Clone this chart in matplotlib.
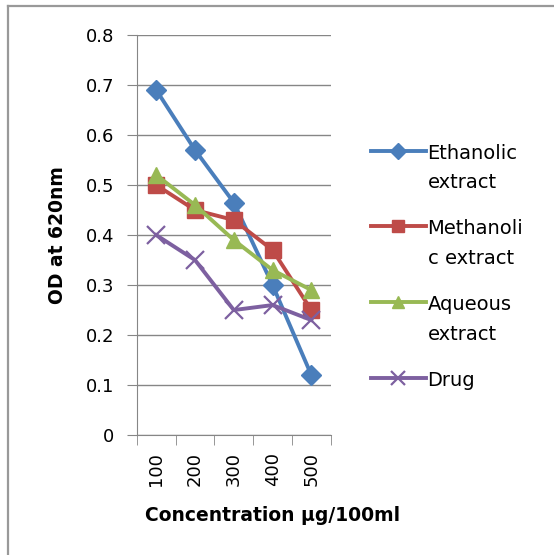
import matplotlib.pyplot as plt
from matplotlib.lines import Line2D
import numpy as np

# data
concentration = ["100", "200", "300", "400", "500"]
ethanolic = [0.69, 0.57, 0.465, 0.30, 0.12]
methanolic = [0.50, 0.45, 0.43, 0.37, 0.25]
aqueous = [0.52, 0.46, 0.39, 0.33, 0.29]
drug = [0.40, 0.35, 0.25, 0.26, 0.23]

fig = plt.figure(figsize=(5.54, 5.55), dpi=100)
ax = fig.add_axes([0.247, 0.216, 0.35, 0.721])

x = np.arange(len(concentration))
ax.plot(x, ethanolic, color='#4A7EBB', lw=2.8, marker='D', ms=10.5, label='Ethanolic\nextract')
ax.plot(x, methanolic, color='#BE4B48', lw=2.8, marker='s', ms=11.5, label='Methanoli\nc extract')
ax.plot(x, aqueous, color='#98B954', lw=2.8, marker='^', ms=12, label='Aqueous\nextract')
ax.plot(x, drug, color='#7D60A0', lw=2.8, marker='x', ms=13, mew=1.6, label='Drug')

# axes styling
ax.set_xlim(-0.5, len(concentration) - 0.5)
ax.set_ylim(0, 0.8)
ax.set_yticks(np.arange(0, 0.81, 0.1))
ax.set_yticklabels(['0'] + ['%.1f' % v for v in np.arange(0.1, 0.81, 0.1)], fontsize=13)
ax.set_xticks(x)
ax.set_xticklabels(concentration, rotation=90, fontsize=13)
ax.set_xticks(np.arange(-0.5, len(concentration)), minor=True)
ax.tick_params(axis='x', which='major', length=0, pad=12)
ax.tick_params(axis='x', which='minor', length=7, color='#868686')
ax.tick_params(axis='y', length=7, color='#868686', pad=9)
ax.grid(axis='y', color='#868686', lw=1)
ax.set_axisbelow(True)
for s in ['top', 'right']:
    ax.spines[s].set_visible(False)
for s in ['left', 'bottom']:
    ax.spines[s].set_color('#868686')

ax.set_xlabel('Concentration µg/100ml', fontsize=13.5, fontweight='bold')
ax.xaxis.set_label_coords(0.70, -0.178)
ax.set_ylabel('OD at 620nm', fontsize=13.5, fontweight='bold')
ax.yaxis.set_label_coords(-0.36, 0.5)

leg = ax.legend(loc='upper left', bbox_to_anchor=(1.118, 0.772), frameon=False,
                fontsize=14, handlelength=2.8, labelspacing=1.4,
                handletextpad=0.1, markerscale=0.75)
for t in leg.get_texts():
    t.set_linespacing(1.7)
# put each handle next to the first line of its label
for col in leg._legend_handle_box.get_children():
    for item in col.get_children():
        item.align = 'top'

# frame along the left and top edges
fig.add_artist(Line2D([0.015, 0.015], [0, 0.989], transform=fig.transFigure,
                      color='#999999', lw=1.6))
fig.add_artist(Line2D([0.015, 1], [0.989, 0.989], transform=fig.transFigure,
                      color='#999999', lw=1.6))

fig.savefig('out.png', dpi=100)
